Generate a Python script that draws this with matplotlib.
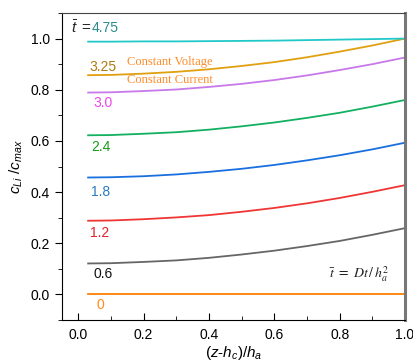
import numpy as np
import matplotlib
matplotlib.use('Agg')
import matplotlib.pyplot as plt
from matplotlib.ticker import MultipleLocator

plt.rcParams['font.family'] = ['Liberation Sans', 'DejaVu Sans']
plt.rcParams['mathtext.fontset'] = 'custom'
plt.rcParams['mathtext.rm'] = 'Liberation Sans'
plt.rcParams['mathtext.it'] = 'Liberation Sans:italic'

# positions along the anode, (z-h_c)/h_a
x = [0.03, 0.1, 0.2, 0.3, 0.4, 0.5, 0.6, 0.7, 0.8, 0.9, 1.0]

# concentration profiles
c_t0 = [0.0] * 11
c_t06 = [0.121, 0.122, 0.127, 0.133, 0.143, 0.156, 0.171, 0.189, 0.209, 0.233, 0.259]
c_t12 = [0.288, 0.289, 0.294, 0.301, 0.310, 0.323, 0.338, 0.356, 0.377, 0.401, 0.427]
c_t18 = [0.457, 0.458, 0.462, 0.469, 0.479, 0.491, 0.506, 0.524, 0.544, 0.567, 0.593]
c_t24 = [0.622, 0.623, 0.628, 0.634, 0.644, 0.657, 0.672, 0.690, 0.710, 0.734, 0.760]
c_t30 = [0.789, 0.790, 0.795, 0.801, 0.811, 0.823, 0.838, 0.856, 0.877, 0.900, 0.926]
c_t325 = [0.857, 0.858, 0.863, 0.870, 0.880, 0.893, 0.908, 0.927, 0.949, 0.973, 1.000]
c_t475 = [0.988, 0.988, 0.989, 0.989, 0.990, 0.991, 0.992, 0.994, 0.996, 0.998, 1.000]

curves = [c_t0, c_t06, c_t12, c_t18, c_t24, c_t30, c_t325, c_t475]
line_colors = ['#ff8000', '#666666', '#f03535', '#1a6fdf', '#12b060', '#c878ea', '#e0a010', '#20c8c8']

labels = ['0', '0.6', '1.2', '1.8', '2.4', '3.0', '3.25']
label_colors = ['#ff8a1a', '#111111', '#e8202a', '#2a7abf', '#169c16', '#ee44ee', '#b07a10']
label_x = [0.055, 0.046, 0.037, 0.040, 0.040, 0.046, 0.034]
label_y = [-0.04, 0.078, 0.242, 0.402, 0.578, 0.75, 0.887]

fig = plt.figure(figsize=(4.13, 3.63), dpi=100)
ax = fig.add_axes([62 / 413, 1 - 320 / 363, 343 / 413, 307 / 363])

for c, col in zip(curves, line_colors):
    ax.plot(x, c, color=col, lw=1.3)

for s, col, lx, ly in zip(labels, label_colors, label_x, label_y):
    ax.text(lx, ly, s, color=col, fontsize=10, va='center', ha='left')

# t-bar = 4.75 header
ax.text(-0.022, 1.043, r'$\bar{t}$', color='#222222', fontsize=11, va='center', ha='left')
ax.text(0.008, 1.043, '=', color='#222222', fontsize=11, va='center', ha='left')
ax.text(0.040, 1.043, '4.75', color='#2a8a8a', fontsize=10, va='center', ha='left')

ax.text(0.148, 0.91, 'Constant Voltage', color='#ff8c2a', fontsize=9,
        family='Liberation Serif', va='center', ha='left')
ax.text(0.148, 0.84, 'Constant Current', color='#ff8c2a', fontsize=9,
        family='Liberation Serif', va='center', ha='left')

ax.text(0.766, 0.078, r'$\bar{t}\ =\ Dt\,/\,h_a^2$', color='#222222', fontsize=10,
        math_fontfamily='stix', va='center', ha='left')

ax.set_xlim(-0.05, 1.0)
ax.set_ylim(-0.1, 1.1)
ax.xaxis.set_major_locator(MultipleLocator(0.2))
ax.xaxis.set_minor_locator(MultipleLocator(0.1))
ax.yaxis.set_major_locator(MultipleLocator(0.2))
ax.yaxis.set_minor_locator(MultipleLocator(0.1))
ax.tick_params(axis='x', which='both', direction='in', labelsize=10, pad=6)
ax.tick_params(axis='x', which='major', length=5)
ax.tick_params(axis='x', which='minor', length=3)
ax.tick_params(axis='y', which='both', direction='out', labelsize=10)
ax.tick_params(axis='y', which='major', length=5)
ax.tick_params(axis='y', which='minor', length=3)

ax.spines['left'].set_color('black')
ax.spines['bottom'].set_color('black')
ax.spines['top'].set_color('#444444')
ax.spines['right'].set_color('#777777')
ax.spines['right'].set_linewidth(2.2)

ax.set_xlabel(r'$(z$-$h_c)/h_a$', fontsize=11, labelpad=1)
ax.set_ylabel(r'$c_{\mathit{Li}}\ /c_{\mathit{max}}$', fontsize=11, labelpad=4)

fig.savefig('out.png', dpi=100)
